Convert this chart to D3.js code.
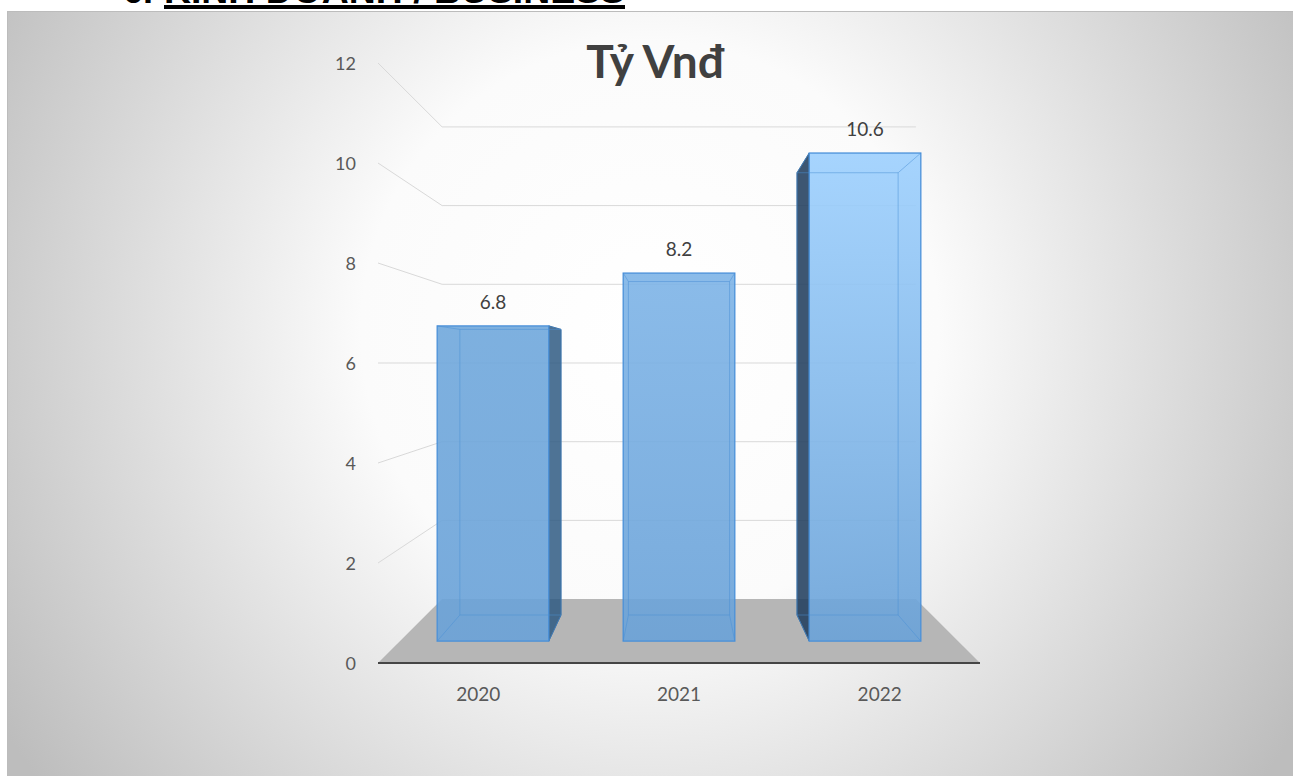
<!DOCTYPE html>
<html>
<head>
<meta charset="utf-8">
<script src="https://cdn.jsdelivr.net/npm/d3@7"></script>
<style>
  body { margin: 0; background: #ffffff; }
  svg { display: block; }
</style>
</head>
<body>
<div id="chart"></div>
<script>
// chart data
const categories = ["2020", "2021", "2022"];
const values = [6.8, 7.94, 10.53];          // bar heights as drawn
const valueLabels = ["6.8", "8.2", "10.6"]; // data label texts
const yTicks = [0, 2, 4, 6, 8, 10, 12];
const chartTitle = "Tỷ Vnđ";
const heading = ["6.", "KINH DOANH / BUSINESS"];

const width = 1293, height = 776;

// 3d look: everything is projected toward a vanishing point
const vp = { x: 679, y: 363 };
const depth = { front: 1, barFront: 0.927, barBack: 0.84, back: 0.787 };

const x = d3.scaleBand()
    .domain(categories)
    .range([-301, 301])
    .paddingInner(0.4)
    .paddingOuter(0.2);

const y = d3.scaleLinear()
    .domain([0, 12])
    .range([300, -300]);

function proj(px, py, s) {
    return [vp.x + px * s, vp.y + py * s];
}

const topColor = d3.scaleLinear()
    .domain([6.8, 10.6])
    .range(["#70a8dc", "#9ed1ff"])
    .clamp(true);

const svg = d3.select("#chart").append("svg")
    .attr("width", width)
    .attr("height", height);

const defs = svg.append("defs");

const bg = defs.append("radialGradient")
    .attr("id", "bgGrad")
    .attr("gradientUnits", "userSpaceOnUse")
    .attr("cx", 650).attr("cy", 330).attr("r", 760);
bg.append("stop").attr("offset", 0).attr("stop-color", "#ffffff");
bg.append("stop").attr("offset", 0.38).attr("stop-color", "#fbfbfb");
bg.append("stop").attr("offset", 1).attr("stop-color", "#bdbdbd");

// heading cut off by the top of the picture
svg.append("text")
    .attr("x", 123).attr("y", 3)
    .style("font-family", "Liberation Sans, Arial, sans-serif")
    .style("font-weight", "bold")
    .style("font-size", "36px")
    .attr("fill", "#000")
    .text(heading[0]);
svg.append("text")
    .attr("x", 164).attr("y", 3)
    .attr("textLength", 461)
    .attr("lengthAdjust", "spacingAndGlyphs")
    .style("font-family", "Liberation Sans, Arial, sans-serif")
    .style("font-weight", "bold")
    .style("font-size", "36px")
    .attr("fill", "#000")
    .text(heading[1]);
svg.append("rect")
    .attr("x", 164).attr("y", 5)
    .attr("width", 461).attr("height", 4)
    .attr("fill", "#000");

// chart area
svg.append("rect")
    .attr("x", 7.5).attr("y", 11.5)
    .attr("width", width).attr("height", height)
    .attr("fill", "url(#bgGrad)")
    .attr("stroke", "#bcbcbc");

// title
svg.append("text")
    .attr("x", 655).attr("y", 78)
    .attr("text-anchor", "middle")
    .style("font-family", "Lato, sans-serif")
    .style("font-weight", "bold")
    .style("font-size", "46px")
    .attr("fill", "#404040")
    .text(chartTitle);

const xMin = x.range()[0], xMax = x.range()[1];

// gridlines: left wall + back wall
const grid = svg.append("g")
    .attr("fill", "none")
    .attr("stroke", "#d9d9d9")
    .attr("stroke-width", 1);

grid.selectAll("polyline")
    .data(yTicks.filter(d => d > 0))
    .enter().append("polyline")
    .attr("points", d => [
        proj(xMin, y(d), depth.front),
        proj(xMin, y(d), depth.back),
        proj(xMax, y(d), depth.back)
    ].join(" "));

// floor
svg.append("polygon")
    .attr("points", [
        proj(xMin, y(0), depth.front),
        proj(xMax, y(0), depth.front),
        proj(xMax, y(0), depth.back),
        proj(xMin, y(0), depth.back)
    ].join(" "))
    .attr("fill", "#b6b6b6");

svg.append("line")
    .attr("x1", proj(xMin, y(0), 1)[0])
    .attr("x2", proj(xMax, y(0), 1)[0])
    .attr("y1", proj(0, y(0), 1)[1])
    .attr("y2", proj(0, y(0), 1)[1])
    .attr("stroke", "#454545")
    .attr("stroke-width", 2);

// y tick labels
svg.append("g").selectAll("text")
    .data(yTicks)
    .enter().append("text")
    .attr("x", 356)
    .attr("y", d => proj(0, y(d), depth.front)[1] + 7)
    .attr("text-anchor", "end")
    .style("font-family", "Lato, sans-serif")
    .style("font-size", "18px")
    .attr("fill", "#595959")
    .text(d => d);

// category labels
svg.append("g").selectAll("text")
    .data(categories)
    .enter().append("text")
    .attr("x", d => proj(x(d) + x.bandwidth() / 2, 0, depth.front)[0])
    .attr("y", 701)
    .attr("text-anchor", "middle")
    .style("font-family", "Lato, sans-serif")
    .style("font-size", "19px")
    .attr("fill", "#595959")
    .text(d => d);

// bars
const bars = categories.map((c, i) => {
    const x0 = x(c), x1 = x0 + x.bandwidth();
    const y0 = y(0), y1 = y(values[i]);
    const f = depth.barFront, b = depth.barBack;
    return {
        cat: c, value: values[i], label: valueLabels[i], x0: x0, x1: x1,
        fTL: proj(x0, y1, f), fTR: proj(x1, y1, f), fBL: proj(x0, y0, f), fBR: proj(x1, y0, f),
        bTL: proj(x0, y1, b), bTR: proj(x1, y1, b), bBL: proj(x0, y0, b), bBR: proj(x1, y0, b)
    };
});

bars.forEach((d, i) => {
    const g = defs.append("linearGradient")
        .attr("id", "barGrad" + i)
        .attr("x1", 0).attr("y1", 0).attr("x2", 0).attr("y2", 1);
    g.append("stop").attr("offset", 0).attr("stop-color", topColor(d.value));
    g.append("stop").attr("offset", 1).attr("stop-color", "#6aa2d8");
});

const barG = svg.append("g");

bars.forEach((d, i) => {
    const g = barG.append("g");

    // side faces, only the one turned to the viewer
    if (d.x0 > 0) {
        g.append("polygon")
            .attr("points", [d.fTL, d.bTL, d.bBL, d.fBL].join(" "))
            .attr("fill", "#223f5e")
            .attr("fill-opacity", 0.88)
            .attr("stroke", "#34628f")
            .attr("stroke-width", 1);
    }
    if (d.x1 < 0) {
        g.append("polygon")
            .attr("points", [d.fTR, d.bTR, d.bBR, d.fBR].join(" "))
            .attr("fill", "#2f5a83")
            .attr("fill-opacity", 0.85)
            .attr("stroke", "#34628f")
            .attr("stroke-width", 1);
    }

    // front face
    g.append("rect")
        .attr("x", d.fTL[0])
        .attr("y", d.fTL[1])
        .attr("width", d.fTR[0] - d.fTL[0])
        .attr("height", d.fBL[1] - d.fTL[1])
        .attr("fill", "url(#barGrad" + i + ")")
        .attr("fill-opacity", 0.9)
        .attr("stroke", "#4a90d9")
        .attr("stroke-width", 1.3);

    // hidden edges seen through the glass
    const edges = [
        [d.bTL, d.bTR], [d.bTR, d.bBR], [d.bBR, d.bBL], [d.bBL, d.bTL],
        [d.fTL, d.bTL], [d.fTR, d.bTR], [d.fBL, d.bBL], [d.fBR, d.bBR]
    ];
    g.selectAll("line.edge")
        .data(edges)
        .enter().append("line")
        .attr("class", "edge")
        .attr("x1", e => e[0][0]).attr("y1", e => e[0][1])
        .attr("x2", e => e[1][0]).attr("y2", e => e[1][1])
        .attr("stroke", "#4a8fd6")
        .attr("stroke-opacity", 0.5)
        .attr("stroke-width", 1);
});

// data labels
svg.append("g").selectAll("text")
    .data(bars)
    .enter().append("text")
    .attr("x", d => (d.fTL[0] + d.fTR[0]) / 2)
    .attr("y", d => d.fTL[1] - 17)
    .attr("text-anchor", "middle")
    .style("font-family", "Lato, sans-serif")
    .style("font-size", "19px")
    .attr("fill", "#404040")
    .text(d => d.label);
</script>
</body>
</html>
